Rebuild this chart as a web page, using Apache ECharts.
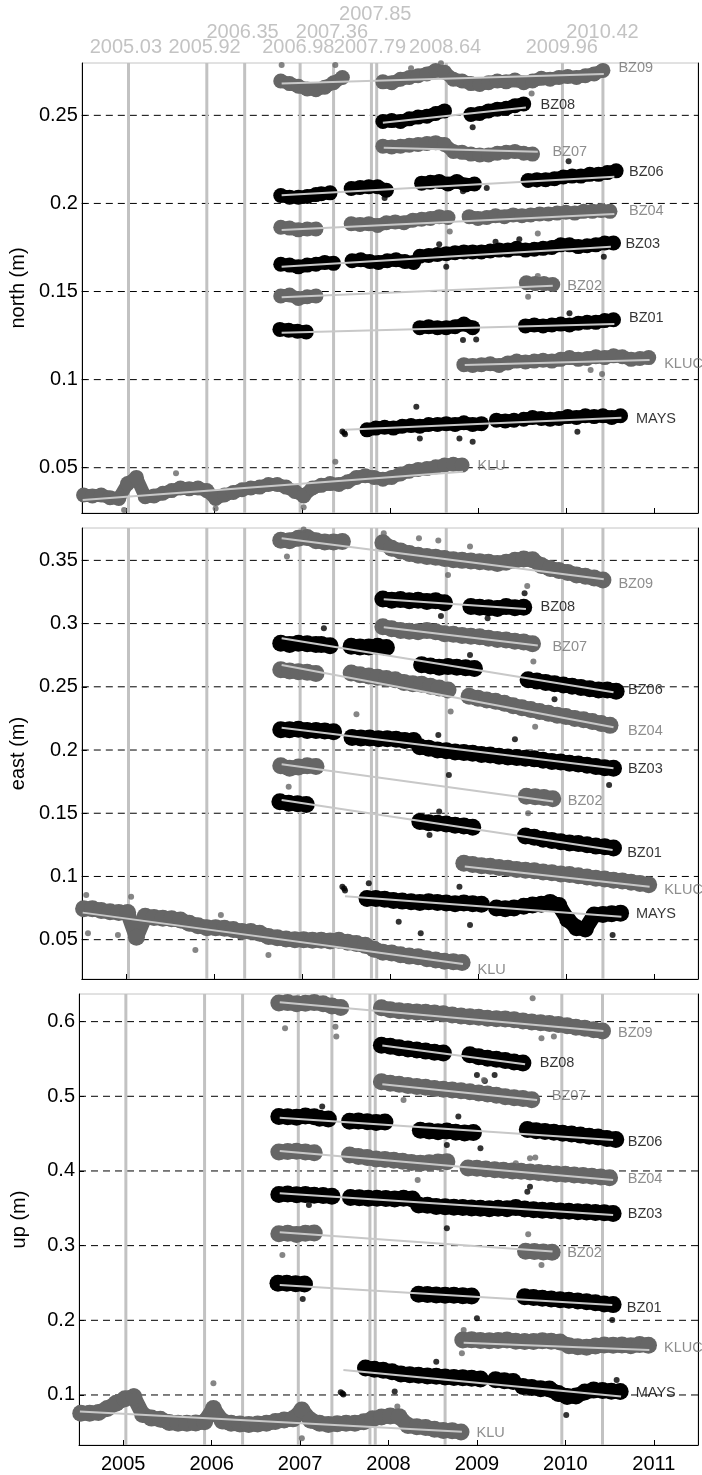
<!DOCTYPE html>
<html>
<head>
<meta charset="utf-8">
<script src="https://cdn.jsdelivr.net/npm/echarts@6/dist/echarts.min.js"></script>
<style>
  html, body { margin: 0; padding: 0; background: #ffffff; }
  #chart { width: 702px; height: 1475px; }
</style>
</head>
<body>
<div id="chart"></div>
<script>
// ---- Event epochs (decimal years), marked by vertical lines ----
const eventYears = [2005.03, 2005.92, 2006.35, 2006.98, 2007.36, 2007.79, 2007.85, 2008.64, 2009.96, 2010.42];

// ---- Tick labels ----
const yearTicks = [2005, 2006, 2007, 2008, 2009, 2010, 2011];
const northTicks = [0.05, 0.1, 0.15, 0.2, 0.25];
const eastTicks = [0.05, 0.1, 0.15, 0.2, 0.25, 0.3, 0.35];
const upTicks = [0.1, 0.2, 0.3, 0.4, 0.5, 0.6];

// ---- Stations (drawing order) ----
const stations = ['BZ09', 'BZ08', 'BZ07', 'BZ06', 'BZ04', 'BZ03', 'BZ02', 'BZ01', 'KLUC', 'MAYS', 'KLU'];
const darkStations = ['BZ08', 'BZ06', 'BZ03', 'BZ01', 'MAYS'];

// ---- Position time series (m), one value every SAMPLE_STEP years ----
// each segment: [first epoch, [values...]]
const SAMPLE_STEP = 0.1;

const northBZ09 = [[2006.76, [0.2695, 0.268, 0.2665, 0.265, 0.2645, 0.266, 0.2685, 0.2715]],
  [2007.92, [0.269, 0.2685, 0.2705, 0.2715, 0.2725, 0.2735, 0.2755, 0.2745, 0.2705, 0.2695, 0.268, 0.2675, 0.2685, 0.2695, 0.269, 0.27, 0.2685, 0.2695, 0.271, 0.2705, 0.2715, 0.272, 0.2715, 0.2725, 0.2735, 0.2755]]];
const northBZ08 = [[2007.92, [0.2465, 0.247, 0.2465, 0.248, 0.249, 0.2495, 0.251, 0.2525]],
  [2008.92, [0.2505, 0.251, 0.2525, 0.2535, 0.254, 0.2555, 0.2565]]];
const northBZ07 = [[2007.92, [0.2325, 0.232, 0.2325, 0.233, 0.2335, 0.234, 0.2345, 0.2335, 0.2295, 0.229, 0.228, 0.2275, 0.2275, 0.2285, 0.229, 0.2295, 0.2285, 0.228]]];
const northBZ06 = [[2006.76, [0.2045, 0.2035, 0.2035, 0.204, 0.205]], [2007.22, [0.2055, 0.206]],
  [2007.56, [0.2085, 0.209, 0.2095, 0.2095, 0.2075]],
  [2008.36, [0.2115, 0.212, 0.2125, 0.211, 0.2125, 0.2105, 0.211]],
  [2009.57, [0.213, 0.2135, 0.2135, 0.214, 0.215, 0.2155, 0.2155, 0.2165, 0.2165, 0.2175, 0.2185]]];
const northBZ04 = [[2006.76, [0.1865, 0.186, 0.185, 0.1855, 0.1855]],
  [2007.56, [0.1885, 0.188, 0.1885, 0.1875, 0.189, 0.1895, 0.189, 0.1905, 0.191, 0.1915, 0.1925, 0.192]],
  [2008.9, [0.1925, 0.1915, 0.192, 0.193, 0.1925, 0.1935, 0.193, 0.1935, 0.194, 0.194, 0.1945, 0.195, 0.1945, 0.1955, 0.1955, 0.196, 0.1955]]];
const northBZ03 = [[2006.76, [0.1655, 0.165, 0.164, 0.165, 0.1655, 0.1665, 0.166]],
  [2007.57, [0.1675, 0.168, 0.167, 0.1665, 0.1675, 0.168, 0.167, 0.1665]],
  [2008.34, [0.170, 0.1705, 0.171, 0.1715, 0.172, 0.1725, 0.1725, 0.1725, 0.173, 0.1735, 0.1735, 0.1745, 0.1735, 0.174, 0.1745, 0.175, 0.1765, 0.1765, 0.1755, 0.176, 0.1765, 0.1775, 0.1775]]];
const northBZ02 = [[2006.76, [0.1475, 0.148, 0.146, 0.147, 0.1475]], [2009.55, [0.155, 0.1545, 0.1545, 0.154]]];
const northBZ01 = [[2006.75, [0.1285, 0.128, 0.1275, 0.127]],
  [2008.34, [0.1295, 0.130, 0.1295, 0.1295, 0.130, 0.1315, 0.1295]],
  [2009.54, [0.1305, 0.131, 0.1305, 0.131, 0.1315, 0.131, 0.132, 0.1325, 0.1325, 0.1335, 0.134]]];
const northKLUC = [[2008.84, [0.1085, 0.108, 0.1085, 0.109, 0.108, 0.1095, 0.1105, 0.110, 0.1105, 0.111, 0.1105, 0.1115, 0.1125, 0.1115, 0.112, 0.113, 0.1125, 0.1135, 0.113, 0.1115, 0.112, 0.1125]]];
const northMAYS = [[2007.74, [0.0715, 0.0725, 0.073, 0.0725, 0.0735, 0.074, 0.0735, 0.0745, 0.0745, 0.075, 0.0745, 0.0755, 0.0745, 0.075]],
  [2009.21, [0.077, 0.0765, 0.077]],
  [2009.52, [0.0775, 0.0785, 0.078, 0.0775, 0.078, 0.079, 0.0785, 0.0795, 0.079, 0.0795, 0.0785, 0.0795]]];
const northKLU = [[2004.52, [0.0345, 0.034, 0.0345, 0.033, 0.0325, 0.041, 0.0445, 0.0335, 0.034, 0.0355, 0.037, 0.0385, 0.038, 0.0385, 0.037, 0.0325, 0.0345, 0.036, 0.0375, 0.0385, 0.039, 0.0405, 0.0405, 0.039, 0.0365, 0.034, 0.0385, 0.040, 0.041, 0.0405, 0.042, 0.0445, 0.0455, 0.0445, 0.0435, 0.0445, 0.0465, 0.048, 0.049, 0.0495, 0.0505, 0.0515, 0.052, 0.0515]]];

const eastBZ09 = [[2006.76, [0.366, 0.3655, 0.3675, 0.368, 0.3655, 0.3645, 0.3645, 0.365]],
  [2007.92, [0.364, 0.3595, 0.3575, 0.3555, 0.354, 0.353, 0.3525, 0.3515, 0.3505, 0.350, 0.3495, 0.349, 0.3485, 0.3475, 0.3485, 0.350, 0.351, 0.3505, 0.346, 0.3435, 0.342, 0.3405, 0.3385, 0.3375, 0.336, 0.3345]]];
const eastBZ08 = [[2007.92, [0.3195, 0.3185, 0.319, 0.318, 0.3185, 0.3175, 0.318, 0.3165]],
  [2008.92, [0.3135, 0.313, 0.3125, 0.312, 0.3135, 0.3125, 0.313]]];
const eastBZ07 = [[2007.92, [0.2975, 0.296, 0.2945, 0.294, 0.2935, 0.2945, 0.2935, 0.292, 0.2915, 0.2905, 0.29, 0.2895, 0.2885, 0.2875, 0.287, 0.286, 0.2855, 0.284]]];
const eastBZ06 = [[2006.76, [0.2845, 0.2835, 0.2845, 0.284, 0.2835]], [2007.22, [0.2835, 0.2825]],
  [2007.56, [0.282, 0.2815, 0.2815, 0.282, 0.281]],
  [2008.36, [0.2675, 0.2665, 0.2655, 0.266, 0.2655, 0.265, 0.2645]],
  [2009.57, [0.2555, 0.2545, 0.2535, 0.2525, 0.2515, 0.2505, 0.2495, 0.2485, 0.2475, 0.2475, 0.2465]]];
const eastBZ04 = [[2006.76, [0.2635, 0.2625, 0.262, 0.2615, 0.2605]],
  [2007.56, [0.261, 0.2595, 0.2585, 0.2575, 0.2565, 0.2555, 0.2535, 0.2525, 0.252, 0.2505, 0.249, 0.2475]],
  [2008.9, [0.2425, 0.241, 0.2395, 0.2385, 0.237, 0.235, 0.2335, 0.232, 0.2305, 0.229, 0.2275, 0.2265, 0.225, 0.224, 0.2225, 0.221, 0.2195]]];
const eastBZ03 = [[2006.76, [0.216, 0.216, 0.2165, 0.2155, 0.2155, 0.215, 0.2145]],
  [2007.57, [0.210, 0.2095, 0.2095, 0.209, 0.209, 0.2085, 0.2075, 0.2075]],
  [2008.34, [0.2025, 0.2015, 0.200, 0.1995, 0.1985, 0.198, 0.1975, 0.1965, 0.196, 0.195, 0.1945, 0.194, 0.1935, 0.193, 0.192, 0.191, 0.1905, 0.1895, 0.189, 0.188, 0.187, 0.186, 0.1855]]];
const eastBZ02 = [[2006.76, [0.1875, 0.1855, 0.1865, 0.1875, 0.187]], [2009.55, [0.1635, 0.163, 0.1625, 0.1615]]];
const eastBZ01 = [[2006.75, [0.159, 0.158, 0.1575, 0.157]],
  [2008.34, [0.1435, 0.1425, 0.142, 0.1415, 0.1405, 0.140, 0.139]],
  [2009.54, [0.132, 0.131, 0.1295, 0.1285, 0.1275, 0.1265, 0.126, 0.125, 0.124, 0.1235, 0.1225]]];
const eastKLUC = [[2008.84, [0.1105, 0.1095, 0.1085, 0.108, 0.107, 0.1065, 0.1055, 0.105, 0.1045, 0.1035, 0.103, 0.102, 0.1015, 0.1005, 0.0995, 0.0985, 0.098, 0.097, 0.0965, 0.0955, 0.0945, 0.0935]]];
const eastMAYS = [[2007.74, [0.0825, 0.0825, 0.082, 0.081, 0.0805, 0.080, 0.0795, 0.080, 0.0795, 0.079, 0.0785, 0.079, 0.0785, 0.078]],
  [2009.21, [0.075, 0.0745, 0.075]],
  [2009.52, [0.0765, 0.0775, 0.078, 0.0795, 0.077, 0.066, 0.0595, 0.0585, 0.0695, 0.070, 0.0705, 0.071]]];
const eastKLU = [[2004.52, [0.0745, 0.0745, 0.073, 0.072, 0.0715, 0.0715, 0.052, 0.0685, 0.0675, 0.067, 0.0665, 0.0655, 0.063, 0.061, 0.0595, 0.0595, 0.059, 0.058, 0.0565, 0.0565, 0.055, 0.0525, 0.0515, 0.0505, 0.050, 0.050, 0.0495, 0.0495, 0.049, 0.0495, 0.048, 0.047, 0.0455, 0.0425, 0.040, 0.0395, 0.038, 0.037, 0.0365, 0.035, 0.034, 0.033, 0.0325, 0.032]]];

const upBZ09 = [[2006.76, [0.625, 0.6255, 0.624, 0.6245, 0.6255, 0.624, 0.621, 0.619]],
  [2007.92, [0.6185, 0.616, 0.6145, 0.6135, 0.613, 0.6125, 0.6115, 0.6105, 0.609, 0.6075, 0.6065, 0.606, 0.6045, 0.604, 0.6035, 0.6025, 0.601, 0.5995, 0.5985, 0.5975, 0.596, 0.5945, 0.5925, 0.591, 0.589, 0.5875]]];
const upBZ08 = [[2007.92, [0.5685, 0.567, 0.565, 0.5635, 0.562, 0.5605, 0.559, 0.558]],
  [2008.92, [0.5555, 0.553, 0.551, 0.5495, 0.548, 0.546, 0.5445]]];
const upBZ07 = [[2007.92, [0.5195, 0.5175, 0.516, 0.5145, 0.513, 0.512, 0.5105, 0.5095, 0.5085, 0.5075, 0.506, 0.5045, 0.503, 0.5015, 0.4995, 0.498, 0.497, 0.4955]]];
const upBZ06 = [[2006.76, [0.473, 0.4725, 0.472, 0.4735, 0.4725]], [2007.22, [0.4705, 0.4695]],
  [2007.56, [0.4665, 0.467, 0.466, 0.465, 0.4655]],
  [2008.36, [0.4545, 0.4535, 0.4525, 0.4535, 0.452, 0.451, 0.4515]],
  [2009.57, [0.4555, 0.454, 0.453, 0.452, 0.4505, 0.4495, 0.448, 0.4465, 0.4455, 0.4435, 0.442]]];
const upBZ04 = [[2006.76, [0.4255, 0.426, 0.4265, 0.4255, 0.4245]],
  [2007.56, [0.4215, 0.4195, 0.418, 0.416, 0.4155, 0.4145, 0.413, 0.4115, 0.4105, 0.411, 0.412, 0.4125]],
  [2008.9, [0.404, 0.4035, 0.4025, 0.4015, 0.401, 0.400, 0.3995, 0.3985, 0.398, 0.397, 0.396, 0.3955, 0.3945, 0.394, 0.393, 0.392, 0.391]]];
const upBZ03 = [[2006.76, [0.3685, 0.369, 0.368, 0.3685, 0.3675, 0.367, 0.366]],
  [2007.57, [0.3645, 0.364, 0.3635, 0.3635, 0.363, 0.3625, 0.3635, 0.3625]],
  [2008.34, [0.3545, 0.354, 0.3525, 0.352, 0.3515, 0.351, 0.3505, 0.350, 0.3495, 0.350, 0.3495, 0.351, 0.349, 0.348, 0.3475, 0.347, 0.3465, 0.346, 0.3455, 0.345, 0.3445, 0.344, 0.343]]];
const upBZ02 = [[2006.76, [0.316, 0.3165, 0.315, 0.3165, 0.317]], [2009.55, [0.2925, 0.292, 0.2915, 0.291]]];
const upBZ01 = [[2006.75, [0.2495, 0.2495, 0.249, 0.2485]],
  [2008.34, [0.235, 0.2345, 0.234, 0.2335, 0.2335, 0.233, 0.2325]],
  [2009.54, [0.2315, 0.2305, 0.2295, 0.2285, 0.2275, 0.227, 0.226, 0.225, 0.2235, 0.222, 0.221]]];
const upKLUC = [[2008.84, [0.1735, 0.174, 0.173, 0.1725, 0.173, 0.1735, 0.172, 0.1715, 0.1715, 0.1725, 0.172, 0.171, 0.166, 0.1645, 0.164, 0.1655, 0.167, 0.1665, 0.167, 0.166, 0.1675, 0.1665]]];
const upMAYS = [[2007.74, [0.136, 0.1345, 0.133, 0.131, 0.128, 0.127, 0.1265, 0.1255, 0.125, 0.124, 0.1235, 0.123, 0.1225, 0.1215]],
  [2009.21, [0.1205, 0.119, 0.118]],
  [2009.52, [0.1115, 0.110, 0.1085, 0.108, 0.102, 0.098, 0.0985, 0.104, 0.1065, 0.106, 0.105, 0.1045]]];
const upKLU = [[2004.52, [0.0755, 0.0755, 0.0765, 0.082, 0.089, 0.095, 0.0975, 0.074, 0.069, 0.0675, 0.063, 0.062, 0.062, 0.0625, 0.064, 0.082, 0.065, 0.062, 0.061, 0.0605, 0.061, 0.062, 0.0645, 0.0665, 0.068, 0.080, 0.066, 0.062, 0.0605, 0.0615, 0.062, 0.062, 0.064, 0.068, 0.0705, 0.072, 0.071, 0.059, 0.0575, 0.0565, 0.054, 0.0525, 0.052, 0.0505]]];

// ---- Isolated daily solutions away from the main scatter: [station, epoch, value] ----
const northOutliers = [['BZ09', 2006.77, 0.2785], ['BZ09', 2007.38, 0.2785], ['BZ09', 2008.58, 0.2795], ['BZ09', 2009.61, 0.2624], ['BZ09', 2008.24, 0.2767],
  ['BZ08', 2008.94, 0.2432], ['BZ06', 2006.92, 0.2022], ['BZ06', 2007.94, 0.2031], ['BZ06', 2008.83, 0.2069], ['BZ06', 2009.10, 0.2088],
  ['BZ06', 2009.67, 0.2107], ['BZ06', 2010.03, 0.224], ['BZ04', 2008.68, 0.184], ['BZ04', 2009.68, 0.183], ['BZ03', 2009.47, 0.1796],
  ['BZ03', 2008.56, 0.1768], ['BZ03', 2008.64, 0.164], ['BZ03', 2010.43, 0.1697], ['BZ03', 2009.20, 0.1783], ['BZ02', 2009.57, 0.147],
  ['BZ02', 2009.68, 0.1588], ['BZ01', 2008.83, 0.1225], ['BZ01', 2008.98, 0.1228], ['BZ01', 2010.04, 0.1376], ['KLUC', 2010.41, 0.1032],
  ['KLUC', 2010.28, 0.1054], ['MAYS', 2007.46, 0.0705], ['MAYS', 2007.48, 0.0698], ['MAYS', 2007.49, 0.069], ['MAYS', 2008.30, 0.0846],
  ['MAYS', 2008.34, 0.0666], ['MAYS', 2008.79, 0.0666], ['MAYS', 2008.94, 0.0647],
  ['MAYS', 2010.13, 0.0704], ['KLU', 2007.38, 0.0534], ['KLU', 2005.57, 0.0468], ['KLU', 2004.98, 0.026], ['KLU', 2007.02, 0.0275], ['KLU', 2006.02, 0.0269]];
const eastOutliers = [['BZ09', 2006.83, 0.353], ['BZ09', 2007.02, 0.3745], ['BZ09', 2007.93, 0.3715], ['BZ09', 2008.33, 0.3675], ['BZ09', 2008.55, 0.3657],
  ['BZ09', 2008.66, 0.3385], ['BZ09', 2008.91, 0.3609], ['BZ09', 2009.56, 0.3298], ['BZ08', 2008.58, 0.306], ['BZ08', 2009.11, 0.3042],
  ['BZ08', 2009.53, 0.324], ['BZ07', 2009.63, 0.27], ['BZ06', 2007.25, 0.2963], ['BZ06', 2008.91, 0.2752], ['BZ06', 2009.87, 0.2401],
  ['BZ04', 2007.62, 0.2283], ['BZ04', 2008.69, 0.2304], ['BZ04', 2009.65, 0.2185], ['BZ03', 2008.67, 0.1803], ['BZ03', 2009.42, 0.2085],
  ['BZ03', 2010.49, 0.1724], ['BZ03', 2008.55, 0.2119], ['BZ02', 2009.57, 0.15], ['BZ02', 2006.85, 0.171], ['BZ01', 2008.45, 0.1328],
  ['BZ01', 2008.56, 0.1513], ['MAYS', 2007.46, 0.0918], ['MAYS', 2007.48, 0.0905], ['MAYS', 2007.49, 0.0889], ['MAYS', 2007.76, 0.0946],
  ['MAYS', 2008.35, 0.055], ['MAYS', 2008.10, 0.0642], ['MAYS', 2008.91, 0.0616],
  ['MAYS', 2010.53, 0.0537], ['MAYS', 2008.79, 0.0919], ['KLU', 2004.55, 0.0853], ['KLU', 2004.57, 0.055], ['KLU', 2004.91, 0.0537],
  ['KLU', 2005.06, 0.084], ['KLU', 2006.08, 0.0695], ['KLU', 2006.62, 0.0379], ['KLU', 2005.79, 0.0418]];
const upOutliers = [['BZ09', 2006.83, 0.591], ['BZ09', 2007.40, 0.5933], ['BZ09', 2007.41, 0.58], ['BZ09', 2009.63, 0.6313], ['BZ09', 2009.73, 0.5777],
  ['BZ09', 2009.87, 0.58], ['BZ08', 2009.00, 0.5286], ['BZ08', 2009.20, 0.5286], ['BZ08', 2009.09, 0.5205], ['BZ07', 2008.17, 0.4951],
  ['BZ07', 2009.08, 0.5219], ['BZ06', 2007.25, 0.4862], ['BZ06', 2008.79, 0.4728], ['BZ06', 2009.04, 0.4304], ['BZ06', 2008.66, 0.4348],
  ['BZ04', 2008.33, 0.3879], ['BZ04', 2009.44, 0.4103], ['BZ04', 2009.60, 0.417], ['BZ04', 2009.66, 0.4179], ['BZ03', 2007.10, 0.3545],
  ['BZ03', 2008.66, 0.3232], ['BZ03', 2009.60, 0.379], ['BZ03', 2009.57, 0.3723], ['BZ02', 2006.80, 0.2875], ['BZ02', 2009.58, 0.3152],
  ['BZ02', 2009.73, 0.2741], ['BZ01', 2007.03, 0.2286], ['BZ01', 2009.00, 0.2027], ['BZ01', 2010.53, 0.2004], ['KLUC', 2008.83, 0.1558],
  ['KLUC', 2008.85, 0.1871], ['MAYS', 2007.46, 0.1035], ['MAYS', 2007.48, 0.102], ['MAYS', 2007.49, 0.1005], ['MAYS', 2008.07, 0.1045],
  ['MAYS', 2010.01, 0.0732], ['MAYS', 2008.54, 0.1446], ['MAYS', 2010.58, 0.12],
  ['KLU', 2007.02, 0.042], ['KLU', 2006.02, 0.1156], ['KLU', 2008.10, 0.0844], ['KLU', 2005.12, 0.105]];

// ---- Linear trends: [start epoch, start value, end epoch, end value], station order ----
const trendNorth = [[2006.77, 0.268, 2010.43, 0.2735], [2007.92, 0.2458, 2009.545, 0.2545], [2007.93, 0.2316, 2009.68, 0.2293],
  [2006.77, 0.2047, 2010.55, 0.2152], [2006.77, 0.1849, 2010.55, 0.194], [2006.77, 0.1641, 2010.51, 0.1754],
  [2006.77, 0.1467, 2009.85, 0.1533], [2006.77, 0.1266, 2010.55, 0.1315], [2008.85, 0.1083, 2010.95, 0.1111],
  [2007.49, 0.0716, 2010.63, 0.0784], [2004.51, 0.0317, 2008.83, 0.0477]];
const trendEast = [[2006.77, 0.3675, 2010.43, 0.3351], [2007.93, 0.3192, 2009.545, 0.3116], [2007.93, 0.2971, 2009.68, 0.2826],
  [2006.77, 0.2884, 2010.54, 0.2457], [2006.77, 0.2673, 2010.54, 0.218], [2006.77, 0.2177, 2010.54, 0.1855],
  [2006.77, 0.1887, 2009.855, 0.1592], [2006.77, 0.1605, 2010.53, 0.1209], [2008.85, 0.1078, 2010.95, 0.0919],
  [2007.49, 0.0843, 2010.63, 0.0682], [2004.51, 0.0714, 2008.83, 0.0307]];
const trendUp = [[2006.77, 0.6259, 2010.43, 0.5875], [2007.93, 0.5679, 2009.545, 0.5429], [2007.93, 0.5161, 2009.68, 0.4951],
  [2006.77, 0.4714, 2010.54, 0.4415], [2006.77, 0.4268, 2010.54, 0.3879], [2006.77, 0.3701, 2010.54, 0.3411],
  [2006.77, 0.3179, 2009.855, 0.292], [2006.77, 0.2473, 2010.53, 0.2205], [2008.85, 0.1701, 2010.95, 0.1603],
  [2007.49, 0.1335, 2010.63, 0.0978], [2004.51, 0.0777, 2008.83, 0.0509]];

// ---- Station name anchors (value axis), station order ----
const labelNorth = [0.2767, 0.2559, 0.2294, 0.2180, 0.1957, 0.1770, 0.1531, 0.1352, 0.1088, 0.0775, 0.0507];
const labelEast = [0.3314, 0.3135, 0.2818, 0.2475, 0.2153, 0.1848, 0.1597, 0.1188, 0.0893, 0.070, 0.026];
const labelUp = [0.5853, 0.5451, 0.5009, 0.4393, 0.3888, 0.3424, 0.2897, 0.2161, 0.1625, 0.1022, 0.0487];

const northSeries = [northBZ09, northBZ08, northBZ07, northBZ06, northBZ04, northBZ03, northBZ02, northBZ01, northKLUC, northMAYS, northKLU];
const eastSeries = [eastBZ09, eastBZ08, eastBZ07, eastBZ06, eastBZ04, eastBZ03, eastBZ02, eastBZ01, eastKLUC, eastMAYS, eastKLU];
const upSeries = [upBZ09, upBZ08, upBZ07, upBZ06, upBZ04, upBZ03, upBZ02, upBZ01, upKLUC, upMAYS, upKLU];

// ---- Styling ----
const FONT = '"Liberation Sans", Arial, Helvetica, sans-serif';
const GRAY = '#666666';
const BLACK = '#000000';
const LABEL_GRAY = '#707070';
const TREND_COLOR = '#c8c8c8';
const EVENT_COLOR = '#c2c2c2';
const EVENT_TEXT = '#b4b4b4';
const X_MIN = 2004.5, X_MAX = 2011.5;
const LABEL_GAP = 0.16;             // years between trend end and station name
const EVENT_ROW_Y = [47, 32, 14.5]; // px from top for stacked event labels
const EVENT_MIN_SEP = 0.78;         // years; closer labels move up a row

const panels = [
  { title: 'north (m)', range: [0.0243, 0.2797], ticks: northTicks, series: northSeries, outliers: northOutliers, trend: trendNorth, labels: labelNorth, top: 63, height: 450, lw: 13, ss: 15 },
  { title: 'east (m)', range: [0.0189, 0.3756], ticks: eastTicks, series: eastSeries, outliers: eastOutliers, trend: trendEast, labels: labelEast, top: 528, height: 451, lw: 15, ss: 17 },
  { title: 'up (m)', range: [0.033, 0.637], ticks: upTicks, series: upSeries, outliers: upOutliers, trend: trendUp, labels: labelUp, top: 994, height: 451, lw: 15, ss: 17 }
];

function segmentsToPoints(segments) {
  const pts = [];
  segments.forEach((seg, k) => {
    const t0 = seg[0], vals = seg[1];
    if (k > 0) pts.push([t0 - SAMPLE_STEP / 2, null]);
    vals.forEach((v, i) => pts.push([+(t0 + i * SAMPLE_STEP).toFixed(3), v]));
  });
  return pts;
}

const grid = [], xAxis = [], yAxis = [], series = [];

panels.forEach((p, i) => {
  grid.push({ left: 79, width: 619, top: p.top, height: p.height, show: true, borderColor: '#c4c4c4', borderWidth: 1, backgroundColor: '#ffffff' });
  xAxis.push({
    gridIndex: i, type: 'value', min: X_MIN, max: X_MAX,
    axisLine: { show: true, onZero: false, lineStyle: { color: '#000', width: 1 } },
    axisTick: { show: true, inside: true, length: 5, customValues: yearTicks, lineStyle: { color: '#000' } },
    axisLabel: { show: i === 2, customValues: yearTicks, fontSize: 20, color: '#000', margin: 9, fontFamily: FONT, formatter: v => String(v) },
    splitLine: { show: false }
  });
  yAxis.push({
    gridIndex: i, type: 'value', min: p.range[0], max: p.range[1], position: 'left',
    name: p.title, nameLocation: 'middle', nameGap: 50,
    nameTextStyle: { fontSize: 20, color: '#000', fontFamily: FONT },
    axisLine: { show: true, onZero: false, lineStyle: { color: '#000', width: 1 } },
    axisTick: { show: true, inside: true, length: 5, customValues: p.ticks, lineStyle: { color: '#000' } },
    axisLabel: { customValues: p.ticks, fontSize: 20, color: '#000', margin: 4, fontFamily: FONT, formatter: v => String(v) },
    splitLine: { show: false }
  });
  yAxis.push({
    gridIndex: i, type: 'value', min: 0, max: 1, position: 'right',
    axisLine: { show: true, onZero: false, lineStyle: { color: '#000', width: 1 } },
    axisTick: { show: false }, axisLabel: { show: false }, splitLine: { show: false }
  });
  const yi = 2 * i;

  // dashed horizontal grid at the value ticks
  const dashPts = [];
  p.ticks.forEach(v => { dashPts.push([X_MIN, v], [X_MAX, v], [X_MAX, null]); });
  series.push({
    type: 'line', xAxisIndex: i, yAxisIndex: yi, data: dashPts, symbol: 'none', silent: true, z: 1,
    lineStyle: { color: '#000', width: 1, type: [7, 5] }, connectNulls: false
  });

  // vertical event lines
  const evPts = [];
  eventYears.forEach(e => { evPts.push([e, p.range[0]], [e, p.range[1]], [e, null]); });
  series.push({
    type: 'line', xAxisIndex: i, yAxisIndex: yi, data: evPts, symbol: 'none', silent: true, z: 1,
    lineStyle: { color: EVENT_COLOR, width: 3 }, connectNulls: false
  });

  // station time series
  stations.forEach((name, k) => {
    const col = darkStations.includes(name) ? BLACK : GRAY;
    series.push({
      type: 'line', name: name, xAxisIndex: i, yAxisIndex: yi, data: segmentsToPoints(p.series[k]),
      symbol: 'circle', symbolSize: p.ss, showSymbol: true, connectNulls: false, silent: true, z: 2,
      lineStyle: { color: col, width: p.lw, cap: 'round', join: 'round' }, itemStyle: { color: col }
    });
  });

  // isolated solutions
  series.push({
    type: 'scatter', xAxisIndex: i, yAxisIndex: yi, symbolSize: 6, silent: true, z: 2,
    data: p.outliers.map(o => ({ value: [o[1], o[2]], itemStyle: { color: darkStations.includes(o[0]) ? BLACK : GRAY } }))
  });

  // linear trends
  stations.forEach((name, k) => {
    const tr = p.trend[k];
    series.push({
      type: 'line', xAxisIndex: i, yAxisIndex: yi, data: [[tr[0], tr[1]], [tr[2], tr[3]]],
      symbol: 'none', silent: true, z: 3, lineStyle: { color: TREND_COLOR, width: 2 }
    });
  });

  // station names
  series.push({
    type: 'scatter', xAxisIndex: i, yAxisIndex: yi, symbolSize: 1, silent: true, z: 4, clip: false,
    itemStyle: { color: 'rgba(0,0,0,0)' },
    data: stations.map((name, k) => ({
      value: [p.trend[k][2] + LABEL_GAP, p.labels[k]],
      label: { color: darkStations.includes(name) ? BLACK : LABEL_GRAY }
    })),
    label: { show: true, position: 'right', distance: 0, fontSize: 14.5, fontFamily: FONT, formatter: q => stations[q.dataIndex] }
  });
});

// event labels above the first panel, stacked where they would collide
grid.push({ left: 79, width: 619, top: 0, height: 63 });
xAxis.push({ gridIndex: 3, type: 'value', min: X_MIN, max: X_MAX, show: false });
yAxis.push({ gridIndex: 3, type: 'value', min: 0, max: 63, inverse: true, show: false });
const rowLast = [];
const eventLabelData = eventYears.map(e => {
  let r = 0;
  while (rowLast[r] !== undefined && e - rowLast[r] < EVENT_MIN_SEP) r++;
  rowLast[r] = e;
  return [e, EVENT_ROW_Y[r]];
});
series.push({
  type: 'scatter', xAxisIndex: 3, yAxisIndex: 6, data: eventLabelData, symbolSize: 1, silent: true, clip: false,
  itemStyle: { color: 'rgba(0,0,0,0)' },
  label: { show: true, position: 'inside', fontSize: 20, color: EVENT_TEXT, fontFamily: FONT, formatter: q => q.value[0].toFixed(2) }
});

const chart = echarts.init(document.getElementById('chart'), null, { renderer: 'canvas' });
chart.setOption({
  animation: false,
  backgroundColor: '#ffffff',
  textStyle: { fontFamily: FONT },
  grid, xAxis, yAxis, series
});
</script>
</body>
</html>
